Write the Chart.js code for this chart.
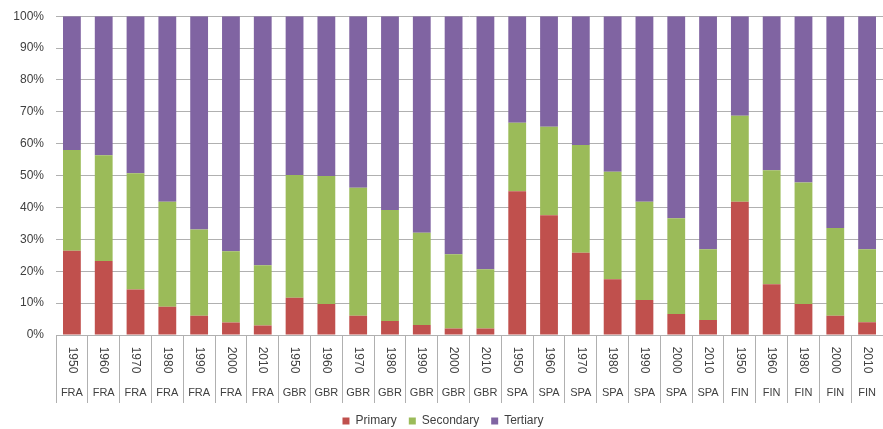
<!DOCTYPE html>
<html>
<head>
<meta charset="utf-8">
<script src="https://cdn.jsdelivr.net/npm/chart.js@4/dist/chart.umd.min.js"></script>
<style>
  html, body { margin: 0; padding: 0; background: #fff; overflow: hidden; }
  #wrap { position: relative; top: -3px; width: 883px; height: 432px; }
</style>
</head>
<body>
<div id="wrap"><canvas id="chart"></canvas></div>
<script>
const years = ['1950','1960','1970','1980','1990','2000','2010',
               '1950','1960','1970','1980','1990','2000','2010',
               '1950','1960','1970','1980','1990','2000','2010',
               '1950','1960','1980','2000','2010']
const countries = ['FRA','FRA','FRA','FRA','FRA','FRA','FRA',
                   'GBR','GBR','GBR','GBR','GBR','GBR','GBR',
                   'SPA','SPA','SPA','SPA','SPA','SPA','SPA',
                   'FIN','FIN','FIN','FIN','FIN']

// shares in %
const primary   = [26.4, 23.2, 14.3, 8.9, 6.0, 3.9, 3.0,
                   11.7, 9.7, 6.0, 4.4, 3.1, 2.0, 2.0,
                   45.1, 37.6, 25.8, 17.5, 11.0, 6.6, 4.7,
                   41.8, 15.9, 9.7, 6.0, 4.0]
const secondary = [31.6, 33.2, 36.4, 32.9, 27.1, 22.4, 18.9,
                   38.5, 40.2, 40.2, 34.8, 29.0, 23.3, 18.6,
                   21.5, 27.7, 33.8, 33.7, 30.8, 30.0, 22.2,
                   27.0, 35.8, 38.1, 27.6, 22.9]
const tertiary  = [42.0, 43.6, 49.3, 58.2, 66.9, 73.7, 78.1,
                   49.8, 50.1, 53.8, 60.8, 67.9, 74.7, 79.4,
                   33.4, 34.7, 40.4, 48.8, 58.2, 63.4, 73.1,
                   31.2, 48.3, 52.2, 66.4, 73.1]

const labelColor = '#404040'
const gridColor = '#b0b0b0'
const fontFamily = '"Liberation Sans", Arial, sans-serif'

// year (rotated clockwise) and country labels under each bar
const categoryLabels = {
    id: 'categoryLabels',
    afterDraw(chart) {
        const ctx = chart.ctx
        const xs = chart.scales.x
        const top = chart.chartArea.bottom
        ctx.save()
        ctx.fillStyle = labelColor
        ctx.textAlign = 'center'
        ctx.textBaseline = 'middle'
        for (let i = 0; i < years.length; i++) {
            const x = xs.getPixelForValue(i)
            ctx.save()
            ctx.font = '12px ' + fontFamily
            ctx.translate(x, top + 25)
            ctx.rotate(Math.PI / 2)
            ctx.fillText(years[i], 0, 0)
            ctx.restore()
            ctx.font = '11px ' + fontFamily
            ctx.fillText(countries[i], x, top + 58)
        }
        ctx.restore()
    }
}

const ctx = document.getElementById('chart').getContext('2d')
const myChart = new Chart(ctx, {
    type: 'bar',
    data: {
        labels: years,
        datasets: [
            { label: 'Primary', data: primary, backgroundColor: '#c0504d' },
            { label: 'Secondary', data: secondary, backgroundColor: '#9bbb59' },
            { label: 'Tertiary', data: tertiary, backgroundColor: '#8064a2' }
        ]
    },
    options: {
        responsive: true,
        maintainAspectRatio: false,
        animation: false,
        datasets: { bar: { categoryPercentage: 1, barPercentage: 0.56 } },
        layout: { padding: { top: 6, right: -3, left: 0, bottom: -8 } },
        plugins: {
            tooltip: { enabled: false },
            legend: {
                position: 'bottom',
                labels: {
                    boxWidth: 7, boxHeight: 7, padding: 12,
                    color: labelColor,
                    font: { size: 12, family: fontFamily }
                }
            }
        },
        scales: {
            x: {
                stacked: true,
                ticks: { display: false },
                grid: {
                    display: true, offset: true, drawOnChartArea: false,
                    drawTicks: true, tickLength: 68, color: gridColor
                },
                border: { color: gridColor },
                afterFit: (scale) => { scale.height = 68 }
            },
            y: {
                stacked: true,
                min: 0, max: 100,
                ticks: {
                    stepSize: 10, padding: 12, color: labelColor,
                    font: { size: 12, family: fontFamily },
                    callback: (v) => v + '%'
                },
                grid: { color: gridColor, drawTicks: false },
                border: { display: false },
                afterFit: (scale) => { scale.width = 56 }
            }
        }
    },
    plugins: [categoryLabels]
})
</script>
</body>
</html>
